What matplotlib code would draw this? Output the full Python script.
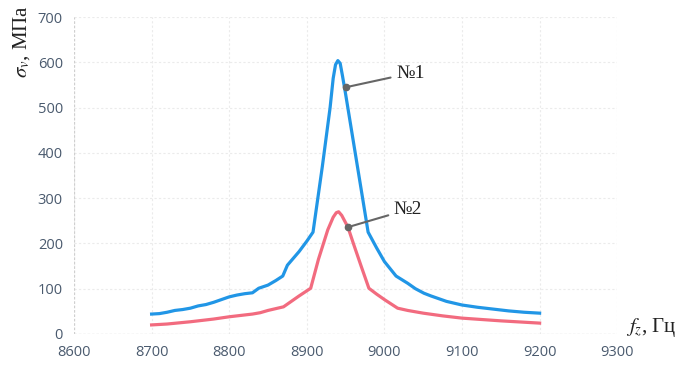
import numpy as np
import matplotlib.pyplot as plt

plt.rcParams['mathtext.fontset'] = 'stix'

# frequency, Hz
f1 = [8700, 8710, 8720, 8730, 8740, 8750, 8760, 8770, 8780, 8790, 8800, 8810, 8820, 8830,
      8838, 8850, 8860, 8869, 8875, 8890, 8900, 8908, 8920, 8930, 8934, 8937, 8940, 8943,
      8946, 8950, 8960, 8970, 8979, 8990, 9000, 9015, 9030, 9040, 9051, 9060, 9070, 9080,
      9090, 9100, 9120, 9140, 9160, 9180, 9200]
s1 = [44, 45, 48, 52, 54, 57, 62, 65, 70, 76, 82, 86, 89, 91,
      101, 108, 118, 128, 152, 182, 205, 225, 370, 500, 565, 595, 604, 598,
      570, 530, 425, 320, 225, 190, 160, 128, 112, 100, 90, 84, 78, 72,
      68, 64, 59, 55, 51, 48, 46]

f2 = [8700, 8720, 8750, 8780, 8800, 8820, 8830, 8840, 8850, 8860, 8870, 8880, 8890, 8905,
      8915, 8927, 8934, 8938, 8941, 8945, 8953, 8960, 8970, 8980, 8990, 9000, 9017, 9030,
      9050, 9075, 9100, 9150, 9200]
s2 = [20, 22, 27, 33, 38, 42, 44, 47, 52, 56, 60, 72, 84, 101,
      165, 230, 258, 268, 270, 262, 236, 200, 150, 101, 88, 76, 57, 52,
      46, 40, 35, 29, 24]

fig = plt.figure(figsize=(6.79, 3.65), dpi=100)
ax = fig.add_axes([0.109, 0.085, 0.800, 0.868])

ax.plot(f1, s1, color='#2196e6', lw=2.3, solid_joinstyle='round')
ax.plot(f2, s2, color='#f26b7f', lw=2.3, solid_joinstyle='round')

ax.set_xlim(8600, 9300)
ax.set_ylim(0, 700)
ax.set_xticks(np.arange(8600, 9301, 100))
ax.set_yticks(np.arange(0, 701, 100))
ax.grid(True, color='#ebebeb', lw=0.8, ls=(0, (2, 2)))
for s in ax.spines.values():
    s.set_visible(False)
ax.axhline(0, color='#cfcfcf', lw=0.9, ls=(0, (2, 1.5)))
ax.axvline(8600, color='#cfcfcf', lw=0.9, ls=(0, (2, 1.5)))
ax.tick_params(length=0, labelsize=10.5, labelcolor='#4a5a6e', pad=8)
for lab in ax.get_xticklabels() + ax.get_yticklabels():
    lab.set_family('Open Sans')

# callouts
ax.annotate('№1', xy=(8950, 545), xytext=(9015, 576), fontsize=14, family='Liberation Serif',
            va='center', color='#222222',
            arrowprops=dict(arrowstyle='-', color='#666666', lw=1.5, shrinkB=3))
ax.plot(8950, 545, 'o', color='#666666', ms=4.5)
ax.annotate('№2', xy=(8953, 236), xytext=(9012, 275), fontsize=14, family='Liberation Serif',
            va='center', color='#222222',
            arrowprops=dict(arrowstyle='-', color='#666666', lw=1.5, shrinkB=3))
ax.plot(8953, 236, 'o', color='#666666', ms=4.5)

fig.text(0.032, 0.885, r'$\sigma_v$, МПа', rotation=90, ha='center', va='center',
         fontsize=15, family='Liberation Serif', color='#222222')
fig.text(0.997, 0.104, r'$f_z$, Гц', ha='right', va='center',
         fontsize=15, family='Liberation Serif', color='#222222')

fig.savefig('out.png', dpi=100)
